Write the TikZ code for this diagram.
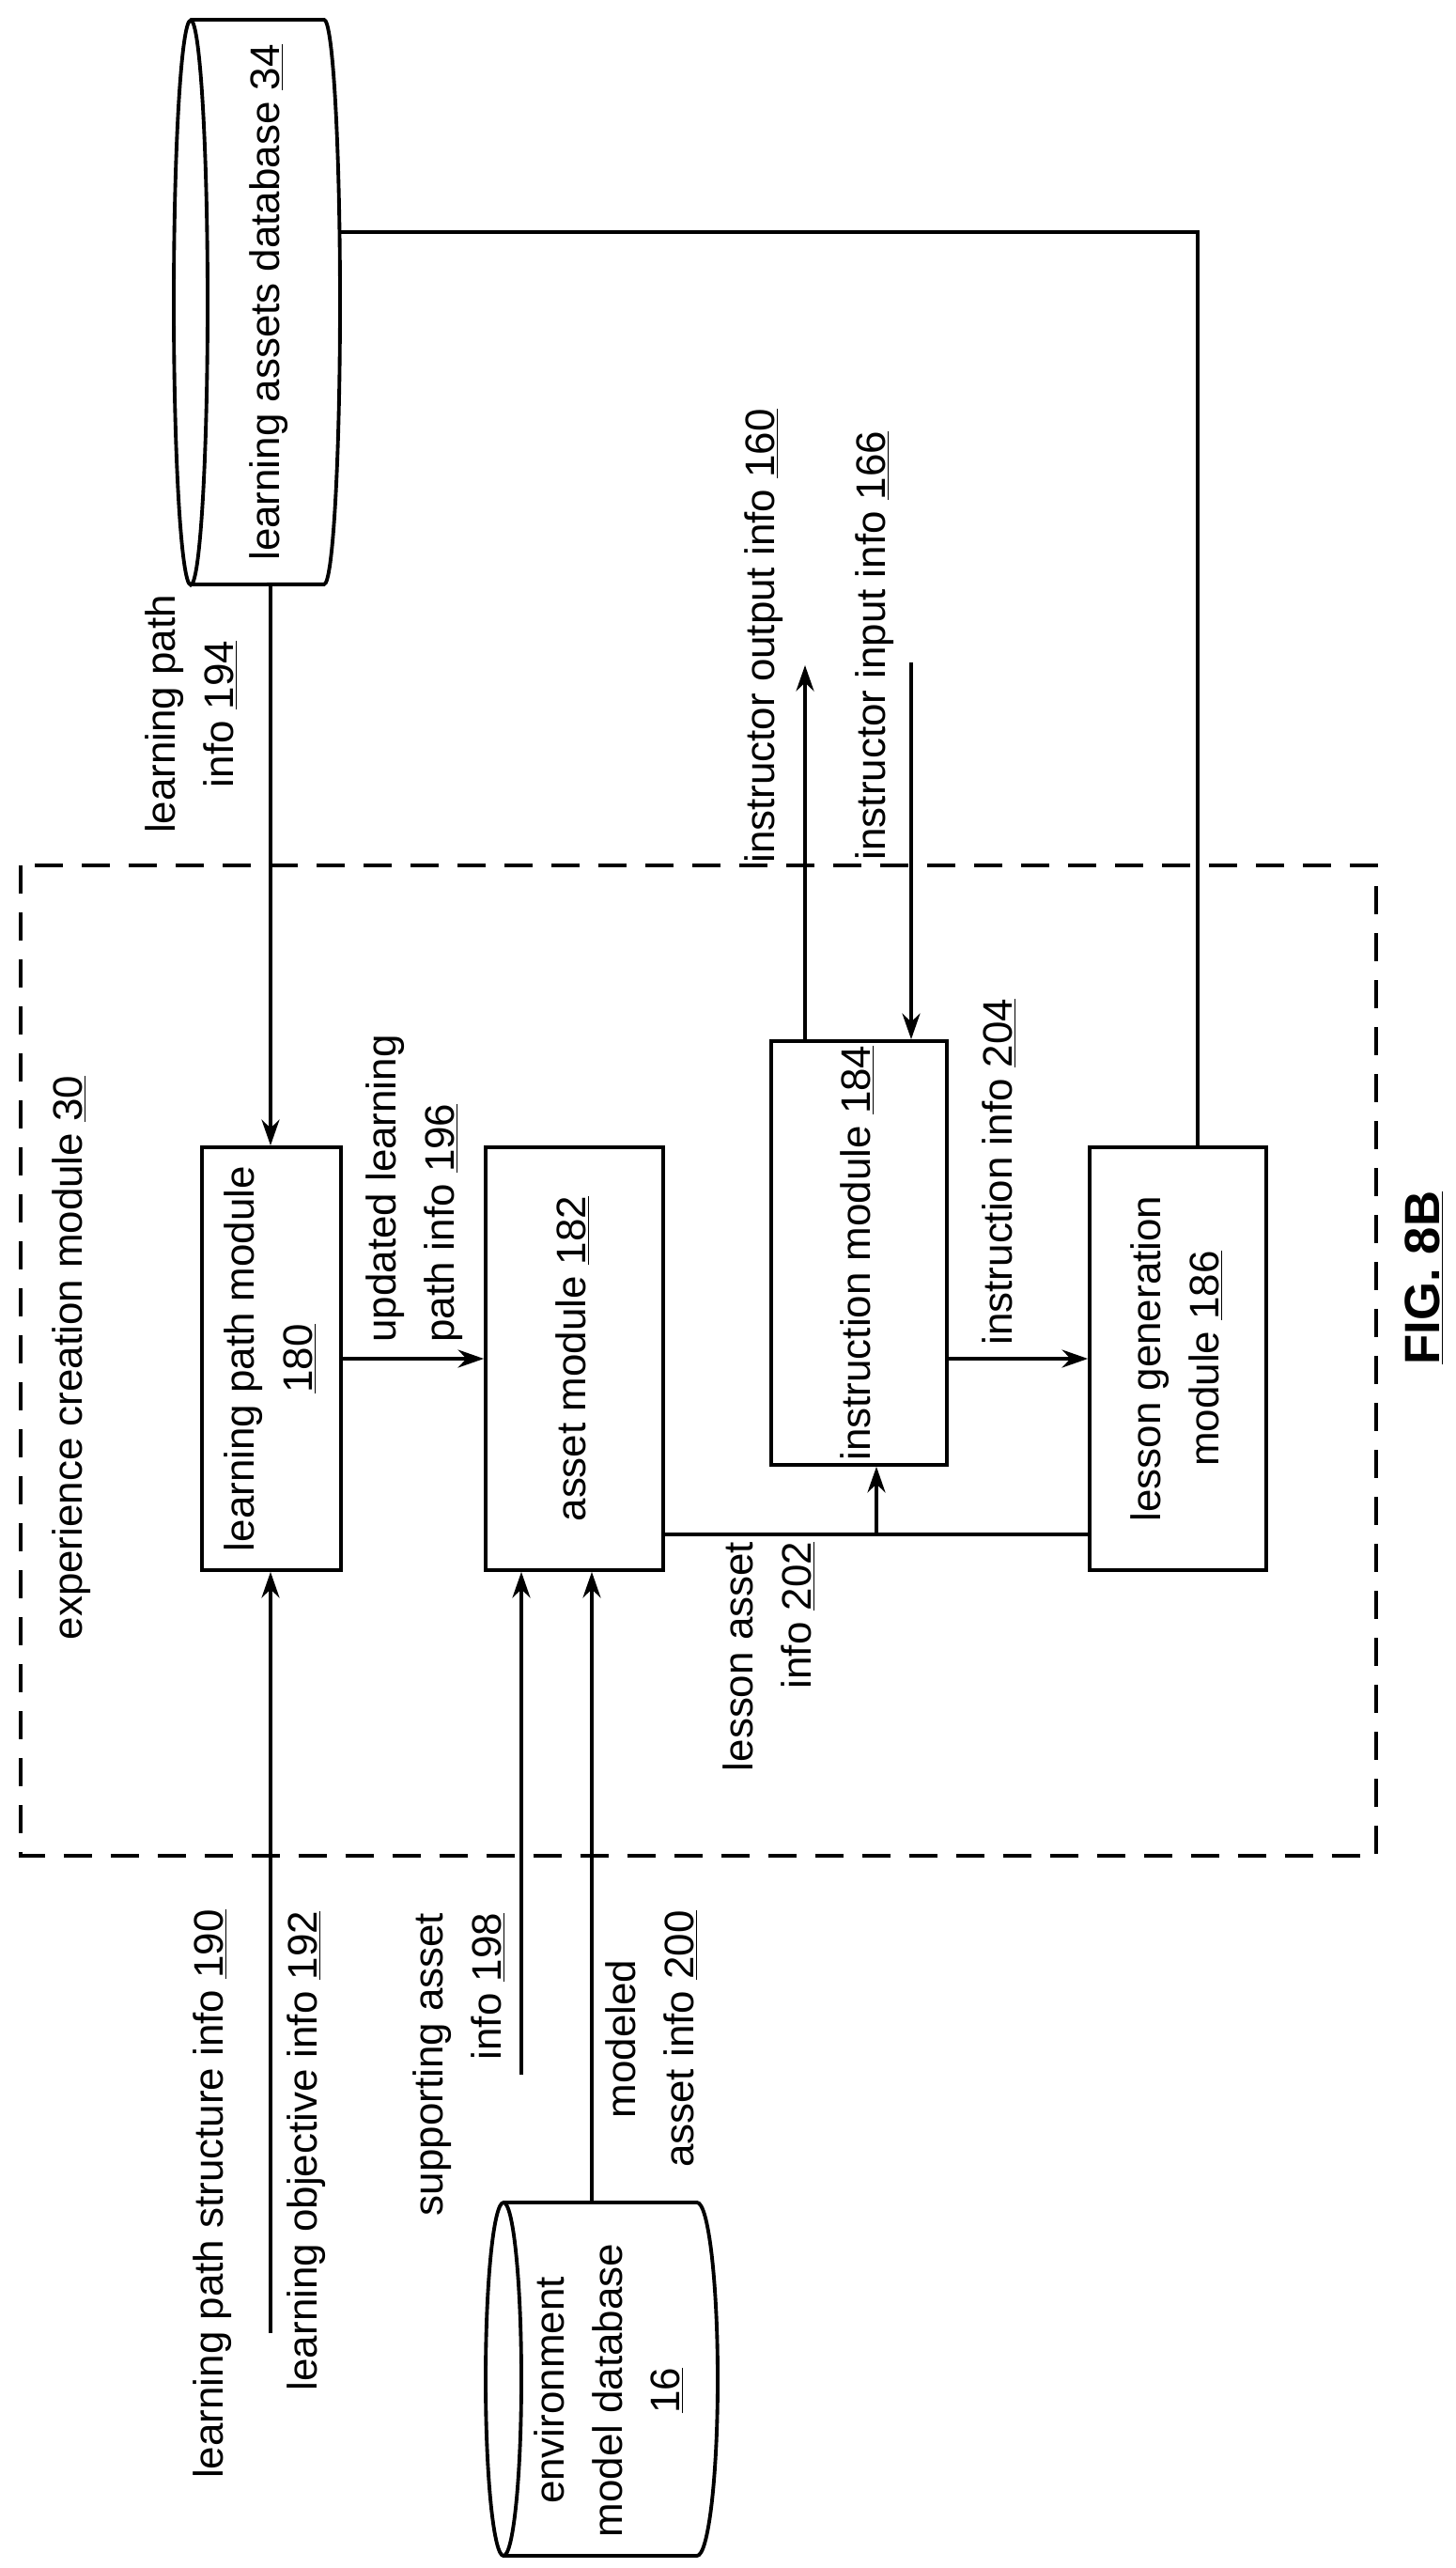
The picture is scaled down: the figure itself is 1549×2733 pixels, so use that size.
\documentclass[tikz,border=0pt]{standalone}
\usepackage{fontspec}
\setmainfont{Liberation Sans}
\usetikzlibrary{arrows.meta,calc}
\newcommand\rotc[1]{\rotatebox{90}{\begin{tabular}{@{}c@{}}#1\end{tabular}}}
\newcommand\rotl[1]{\rotatebox{90}{\begin{tabular}{@{}l@{}}#1\end{tabular}}}
\newcommand\rotr[1]{\rotatebox{90}{\begin{tabular}{@{}r@{}}#1\end{tabular}}}
\begin{document}
\begin{tikzpicture}[x=0.02cm,y=-0.02cm,
  every node/.style={font=\fontsize{25}{35}\selectfont, inner sep=0pt},
  box/.style={draw, line width=2.2pt, minimum height=9cm},
  ln/.style={line width=2pt},
  arr/.style={ln, -{Stealth[length=0.55cm,width=0.38cm]}},
  cyl/.style={line width=2.2pt}]
\useasboundingbox (0,0) rectangle (1549,2733);
% dashed module frame
\draw[line width=2pt, dash pattern=on 0.6cm off 0.4cm] (22,921) rectangle (1465,1975);
\node (ecm) at (75,1445) {\rotc{experience creation module \underline{30}}};
% learning assets database cylinder
\draw[cyl] (203,322) ellipse [x radius=0.36cm, y radius=6.01cm];
\draw[cyl] (203,21) -- (345,21) arc[start angle=90, end angle=-90, x radius=0.34cm, y radius=6.01cm] -- (203,622);
\node (ladb) at (285,322) {\rotc{learning assets database \underline{34}}};
% environment model database cylinder
\draw[cyl] (536,2532) ellipse [x radius=0.38cm, y radius=3.76cm];
\draw[cyl] (536,2344) -- (742,2344) arc[start angle=90, end angle=-90, x radius=0.44cm, y radius=3.76cm] -- (536,2720);
\node (emdb) at (650,2544) {\rotc{environment\\model database\\\underline{16}}};
% modules
\node[box, minimum width=2.96cm] (lp) at (289,1446) {\rotc{learning path module\\\underline{180}}};
\node[box, minimum width=3.78cm] (am) at (611.5,1446) {\rotc{asset module \underline{182}}};
\node[box, minimum width=3.74cm, minimum height=9.02cm] (im) at (914.5,1333.5) {\rotc{instruction module \underline{184}}};
\node[box, minimum width=3.76cm] (lg) at (1254,1446) {\rotc{lesson generation\\module \underline{186}}};
% coordinates
\coordinate (dbb) at (288,622);
\coordinate (dbr) at (362,247);
\coordinate (lgt) at (1275,1221);
\coordinate (io) at (857,708);
\coordinate (ii) at (970,705);
\coordinate (la) at (933,1633);
\coordinate (s190) at (288,2483);
\coordinate (s198) at (555,2208);
\coordinate (s200) at (630,2344);
% connectors
\draw[arr] (dbb) -- (dbb |- lp.north);
\draw[ln] (dbr) -| (lgt);
\draw[arr] (io |- im.north) -- (io);
\draw[arr] (ii) -- (ii |- im.north);
\draw[arr] (lp.east) -- (am.west);
\draw[arr] (im.east |- lg.west) -- (lg.west);
\draw[ln] (am.east |- la) -- (lg.west |- la);
\draw[arr] (la) -- (la |- im.south);
\draw[arr] (s190) -- (s190 |- lp.south);
\draw[arr] (s198) -- (s198 |- am.south);
\draw[arr] (s200) -- (s200 |- am.south);
% labels
\node (l194) at (205,760) {\rotc{learning path\\info \underline{194}}};
\node (l160) at (812,677) {\rotc{instructor output info \underline{160}}};
\node (l166) at (930,687) {\rotc{instructor input info \underline{166}}};
\node (l196) at (440,1265) {\rotl{updated learning\\path info \underline{196}}};
\node (l204) at (1065,1247) {\rotc{instruction info \underline{204}}};
\node (l202) at (820,1763) {\rotr{lesson asset\\info \underline{202}}};
\node (l190) at (225,2335) {\rotc{learning path structure info \underline{190}}};
\node (l192) at (325,2289) {\rotc{learning objective info \underline{192}}};
\node (l198) at (490,2197) {\rotr{supporting asset\\info \underline{198}}};
\node (l200) at (695,2170) {\rotc{modeled\\asset info \underline{200}}};
\node[font=\fontsize{30}{36}\selectfont\bfseries] (fig) at (1520,1360) {\rotc{\underline{FIG. 8B}}};
\end{tikzpicture}
\end{document}
